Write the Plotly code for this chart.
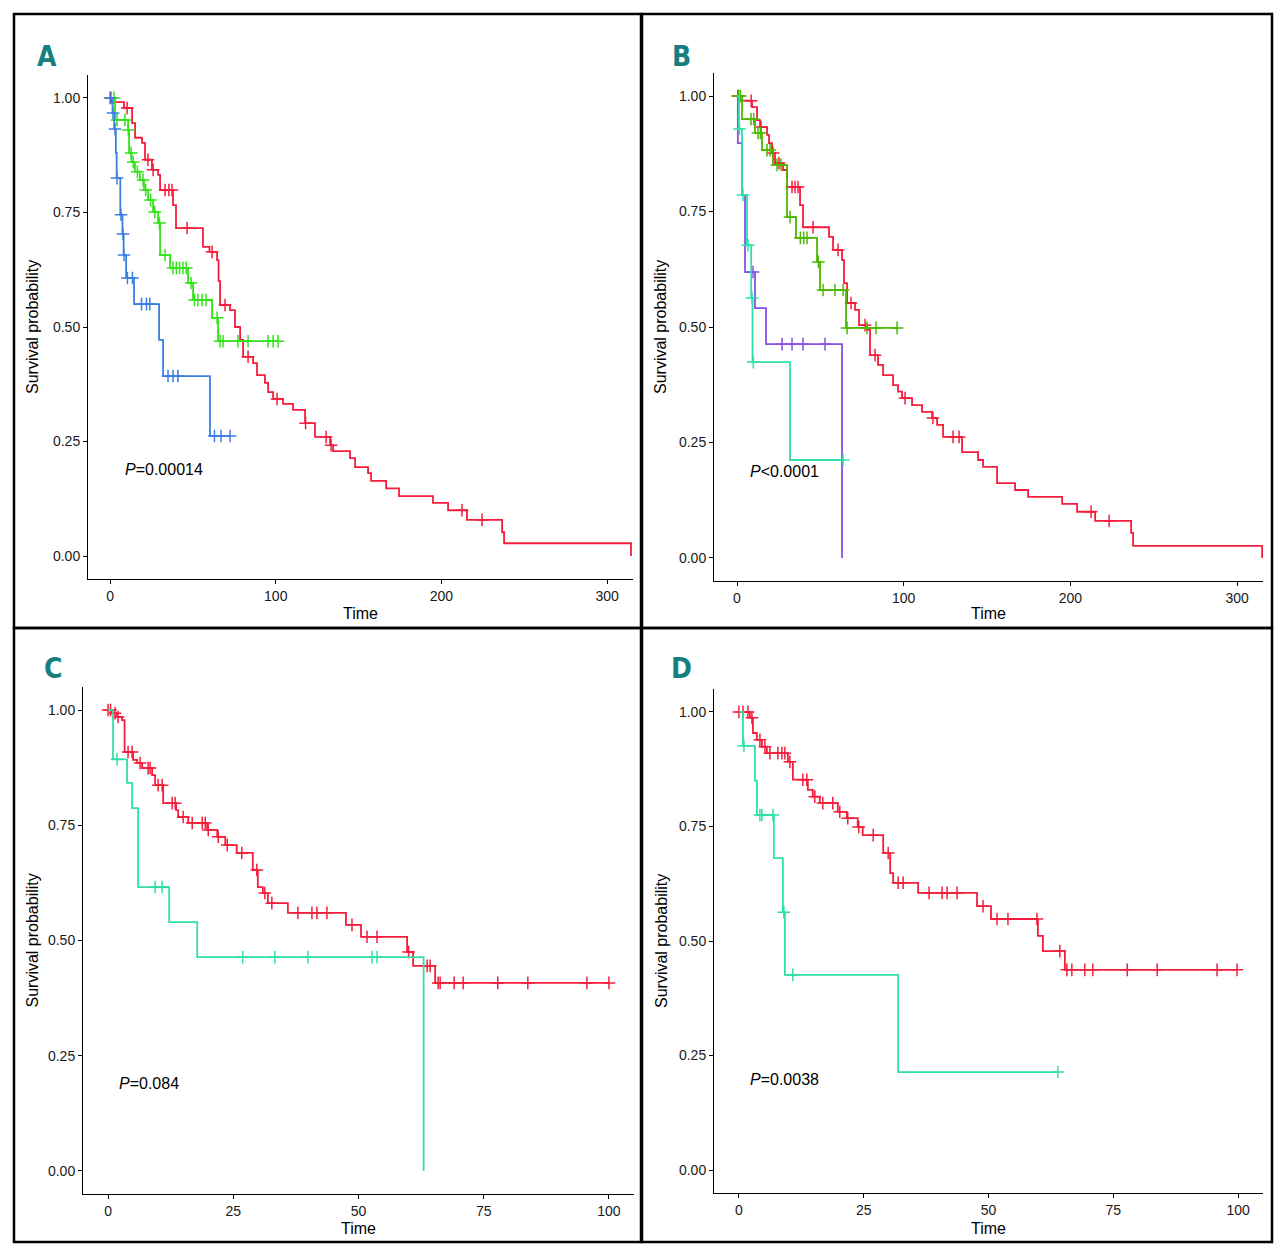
import plotly.graph_objects as go

# ---------------- data ----------------
# Panel A
A_red_t = [0, 1, 8.4, 13.3, 15.1, 19.3, 21.1, 25.3, 29, 30.2, 38, 39.8, 56.1, 60, 64.6, 65.5, 66.4, 72.4, 75.4, 78.5,
           80.3, 86.3, 88.7, 93.5, 95.4, 98.4, 104.4, 110.4, 117.7, 123.7, 132.8, 134.6, 144.8, 147.9, 155.7, 157.5,
           166.6, 174.4, 194.9, 204, 215.4, 236.6, 237.8, 314.4]
A_red_s = [1.0, 0.991, 0.978, 0.945, 0.913, 0.902, 0.865, 0.843, 0.832, 0.799, 0.766, 0.716, 0.675, 0.664, 0.646, 0.600,
           0.548, 0.537, 0.500, 0.472, 0.435, 0.421, 0.395, 0.378, 0.358, 0.343, 0.332, 0.319, 0.290, 0.260, 0.242, 0.229,
           0.214, 0.194, 0.181, 0.164, 0.148, 0.131, 0.116, 0.100, 0.079, 0.052, 0.028, 0.0]
A_red_cens = [0.5, 10.3, 22.9, 26, 33.2, 35.5, 37.4, 46.5, 61.6, 69.4, 83.3, 100.8, 118, 130.4, 133.4, 212.4, 224.5]

A_green_t = [0, 3, 10.9, 11.5, 13, 15, 18, 20.5, 23, 26, 29, 30.2, 36.2, 47.1, 50.1, 61.6, 65.2]
A_green_s = [1.0, 0.952, 0.930, 0.880, 0.860, 0.839, 0.821, 0.799, 0.777, 0.751, 0.727, 0.657, 0.629, 0.596, 0.559,
             0.520, 0.469]
A_green_cens = [2.4, 4.2, 9, 11, 12.7, 14, 16.5, 19.9, 21.5, 24.5, 27, 29.8, 33.2, 38, 40, 42, 44, 46, 48.9, 51, 53,
                55.5, 58, 64.6, 66.4, 68.2, 77.2, 83.3, 95.4, 98.4, 101.4]

A_blue_t = [0, 1.5, 2.5, 3.5, 4, 6.2, 7.5, 8.2, 9.7, 14.5, 29.6, 32, 60.3]
A_blue_s = [1.0, 0.967, 0.932, 0.880, 0.825, 0.745, 0.703, 0.657, 0.607, 0.550, 0.472, 0.393, 0.262]
A_blue_cens = [0, 1.8, 3, 4.2, 6.6, 7.8, 8.4, 10.5, 13.5, 19, 22, 24, 35, 38, 41, 63, 67, 72.4]

# Panel B
B_red_t = [0, 1, 9, 12, 13.8, 18, 19.2, 21, 22.8, 27.6, 30, 37.8, 39.6, 55.2, 57.6, 63, 64.2, 66, 70.8, 73.2,
           78, 79.8, 84.6, 87.6, 93.6, 96.6, 99, 105, 111, 117, 120, 123.6, 135, 144.6, 147.6, 156, 166.8, 174.6,
           195, 204, 214.8, 236.4, 237.6, 315]
B_red_s = [1.0, 0.990, 0.976, 0.948, 0.933, 0.916, 0.898, 0.877, 0.855, 0.840, 0.803, 0.764, 0.716, 0.695, 0.667,
           0.645, 0.595, 0.552, 0.537, 0.504, 0.494, 0.439, 0.418, 0.396, 0.374, 0.360, 0.346, 0.331, 0.316, 0.303,
           0.288, 0.262, 0.229, 0.212, 0.197, 0.162, 0.147, 0.132, 0.117, 0.100, 0.080, 0.054, 0.026, 0.0]
B_red_cens = [0.5, 8.5, 14.4, 21.6, 25.2, 33, 34.8, 36.6, 45.6, 60.6, 68.4, 76.8, 82.8, 100.8, 117.5, 129.6, 133.2,
              212.4, 223.2]

B_green_t = [0, 3, 10.8, 15, 21.6, 30, 35.4, 48, 49.8, 65.4]
B_green_s = [1.0, 0.950, 0.920, 0.883, 0.851, 0.738, 0.693, 0.641, 0.580, 0.498]
B_green_cens = [1, 2, 8.4, 10, 12.6, 14, 18, 19.8, 24, 26.4, 31.8, 38, 40, 42, 48.8, 51.6, 58.8, 63.6, 66, 78, 83.4,
                96]

B_purple_t = [0, 0.5, 3, 4.8, 10.8, 17.4, 63]
B_purple_s = [1.0, 0.898, 0.786, 0.619, 0.541, 0.463, 0.0]
B_purple_cens = [9.6, 27, 33, 39.6, 52.8]

B_teal_t = [0, 1.2, 3, 6, 8.5, 9.3, 31.8]
B_teal_s = [1.0, 0.929, 0.786, 0.677, 0.563, 0.424, 0.212]
B_teal_cens = [1.5, 3.6, 6.6, 9, 9.8, 63.6]

# Panel C
C_red_t = [0, 0.8, 1.8, 2.8, 3.3, 5, 5.8, 6.8, 8.8, 9.4, 11, 13.6, 14, 16, 19.8, 21.8, 23.4, 25.7, 28.9, 29.9,
           30.9, 31.9, 35.9, 47.5, 50.5, 59.7, 60.9, 65.3]
C_red_s = [1.0, 0.993, 0.985, 0.978, 0.909, 0.892, 0.885, 0.874, 0.859, 0.837, 0.798, 0.783, 0.768, 0.755, 0.740,
           0.725, 0.707, 0.690, 0.653, 0.616, 0.603, 0.581, 0.560, 0.534, 0.508, 0.475, 0.445, 0.408]
C_red_cens = [0, 0.5, 1.4, 2, 4, 4.8, 6.4, 8, 8.4, 10, 10.8, 12.8, 13.4, 15, 16.8, 18.8, 19.4, 20, 22, 23.8, 26.7,
              29.7, 31.3, 32.7, 37.9, 40.7, 41.7, 43.7, 48.7, 51.7, 53.7, 60, 63.7, 64.3, 65.9, 66.3, 69.1, 70.9,
              77.8, 83.8, 95.6, 100]

C_teal_t = [0, 1, 3.8, 4.8, 6, 12.2, 17.8, 63]
C_teal_s = [1.0, 0.893, 0.842, 0.787, 0.616, 0.540, 0.464, 0.0]
C_teal_cens = [1.8, 9.4, 10.8, 26.9, 33.3, 39.9, 52.7, 53.7]

# Panel D
D_red_t = [0, 2.2, 2.8, 3.6, 4.6, 5.6, 9.8, 10.8, 13.8, 14.8, 16.2, 19.8, 21.6, 23.8, 24.8, 28.9, 30.3, 30.9, 35.9,
           47.7, 50.5, 59.9, 60.9, 65.3]
D_red_s = [1.0, 0.987, 0.954, 0.939, 0.924, 0.910, 0.891, 0.852, 0.830, 0.815, 0.801, 0.782, 0.768, 0.749, 0.731,
           0.692, 0.648, 0.627, 0.605, 0.576, 0.548, 0.511, 0.478, 0.437]
D_red_cens = [0, 0.8, 1.8, 2.6, 4.2, 5.2, 6.2, 7.8, 8.6, 9.2, 10.2, 12.8, 13.6, 15.2, 16.8, 18.8, 20.2, 21.8, 24,
              26.9, 29.9, 31.9, 32.9, 38.1, 40.7, 41.7, 43.7, 48.9, 51.7, 53.9, 59.7, 64.3, 65.7, 66.7, 69.3, 70.9,
              77.8, 83.8, 95.8, 99.8]

D_teal_t = [0, 0.8, 3.2, 3.6, 7, 8.8, 9.2, 31.9]
D_teal_s = [1.0, 0.926, 0.850, 0.775, 0.681, 0.563, 0.426, 0.214]
D_teal_cens = [1.0, 4.2, 4.6, 6.8, 9.0, 10.8, 63.9]

x_ticks_long = [0, 100, 200, 300]
x_ticks_short = [0, 25, 50, 75, 100]
y_ticks = [0, 0.25, 0.5, 0.75, 1.0]
panel_labels = ["A", "B", "C", "D"]
p_texts = ["<i>P</i>=0.00014", "<i>P</i><0.0001", "<i>P</i>=0.084", "<i>P</i>=0.0038"]
p_pos = [(7.8, 0.19), (6.6, 0.188), (1.8, 0.189), (1.8, 0.197)]

# ---------------- styling ----------------
RED = "#F41E3C"
GREEN_A = "#33E31A"
BLUE = "#3C7FE3"
GREEN_B = "#4CB800"
PURPLE = "#8B4FE6"
TEAL = "#2FE0A8"
LETTER = "#167F80"
FONT = "Liberation Sans, Arial, sans-serif"

W, H = 1280, 1254


def px_x(p):
    return p / W


def px_y(p):
    return 1 - p / H


def surv_at(t, s, x):
    val = s[0]
    for ti, si in zip(t, s):
        if ti <= x:
            val = si
    return val


fig = go.Figure()

panels = [
    ("A", "", [(A_red_t, A_red_s, A_red_cens, RED), (A_green_t, A_green_s, A_green_cens, GREEN_A),
               (A_blue_t, A_blue_s, A_blue_cens, BLUE)],
     (88, 633), (75, 579), [-13.3, 315.6], x_ticks_long),
    ("B", "2", [(B_red_t, B_red_s, B_red_cens, RED), (B_green_t, B_green_s, B_green_cens, GREEN_B),
                (B_purple_t, B_purple_s, B_purple_cens, PURPLE), (B_teal_t, B_teal_s, B_teal_cens, TEAL)],
     (714, 1263), (73, 581), [-13.8, 315.5], x_ticks_long),
    ("C", "3", [(C_red_t, C_red_s, C_red_cens, RED), (C_teal_t, C_teal_s, C_teal_cens, TEAL)],
     (83, 634), (687, 1194), [-5, 105], x_ticks_short),
    ("D", "4", [(D_red_t, D_red_s, D_red_cens, RED), (D_teal_t, D_teal_s, D_teal_cens, TEAL)],
     (714, 1263), (689, 1193), [-5, 105], x_ticks_short),
]

letter_pos = [(47, 56), (681, 56), (53, 669), (681, 669)]
ytitle_x = [33, 661, 32, 661]
xtitle_y = [614, 614, 1228, 1228]
boxes = [(14, 14, 641, 628), (642, 14, 1272, 628), (14, 628, 641, 1242), (642, 628, 1272, 1242)]

annotations = []
shapes = []

for i, (name, suf, curves, xd, yd, xr, xt) in enumerate(panels):
    xa = "x" + suf
    ya = "y" + suf
    for t, s, cens, col in curves:
        end = max(t[-1], max(cens))
        xs = list(t) + [end]
        ys = list(s) + [s[-1]]
        fig.add_trace(go.Scatter(x=xs, y=ys, mode="lines", line=dict(color=col, width=1.8, shape="hv"),
                                 xaxis=xa, yaxis=ya, showlegend=False, hoverinfo="skip"))
        cy = [surv_at(t, s, c) for c in cens]
        fig.add_trace(go.Scatter(x=cens, y=cy, mode="markers",
                                 marker=dict(symbol="cross-thin", size=9, line=dict(color=col, width=1.5)),
                                 xaxis=xa, yaxis=ya, showlegend=False, hoverinfo="skip"))
    axis_common = dict(showline=True, linecolor="black", linewidth=1, ticks="outside", ticklen=4,
                       tickcolor="black", tickwidth=1, showgrid=False, zeroline=False,
                       tickfont=dict(family=FONT, size=14, color="#1a1a1a"))
    fig.update_layout(**{
        "xaxis" + suf: dict(domain=[px_x(xd[0]), px_x(xd[1])], range=xr, tickvals=xt, anchor=ya, **axis_common),
        "yaxis" + suf: dict(domain=[px_y(yd[1]), px_y(yd[0])], range=[-0.05, 1.05], tickvals=y_ticks,
                            tickformat=".2f", anchor=xa, **axis_common),
    })
    annotations.append(dict(x=p_pos[i][0], y=p_pos[i][1], xref=xa, yref=ya, text=p_texts[i], showarrow=False,
                            xanchor="left", yanchor="middle", font=dict(family=FONT, size=16, color="black")))
    annotations.append(dict(x=px_x((xd[0] + xd[1]) / 2), y=px_y(xtitle_y[i]), xref="paper", yref="paper",
                            text="Time", showarrow=False, xanchor="center", yanchor="middle",
                            font=dict(family=FONT, size=16, color="black")))
    annotations.append(dict(x=px_x(ytitle_x[i]), y=px_y((yd[0] + yd[1]) / 2), xref="paper", yref="paper",
                            text="Survival probability", showarrow=False, textangle=-90, xanchor="center",
                            yanchor="middle", font=dict(family=FONT, size=16, color="black")))
    annotations.append(dict(x=px_x(letter_pos[i][0]), y=px_y(letter_pos[i][1]), xref="paper", yref="paper",
                            text="<b>" + panel_labels[i] + "</b>", showarrow=False, xanchor="center",
                            yanchor="middle",
                            font=dict(family="Liberation Sans Narrow, DejaVu Sans Condensed, Roboto Condensed, sans-serif",
                                      size=28, color=LETTER)))
    bx = boxes[i]
    shapes.append(dict(type="rect", xref="paper", yref="paper", x0=px_x(bx[0]), x1=px_x(bx[2]),
                       y0=px_y(bx[3]), y1=px_y(bx[1]), line=dict(color="black", width=2.5)))

fig.update_layout(width=W, height=H, margin=dict(l=0, r=0, t=0, b=0), paper_bgcolor="white",
                  plot_bgcolor="white", annotations=annotations, shapes=shapes, showlegend=False)

fig.write_html("out.html", config={"displayModeBar": False},
               post_script="document.body.style.margin='0';")
